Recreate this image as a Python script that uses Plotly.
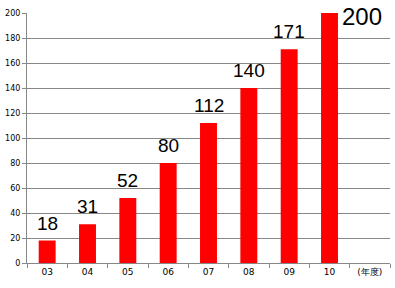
import plotly.graph_objects as go

categories = ["03", "04", "05", "06", "07", "08", "09", "10", "(年度)"]
values = [18, 31, 52, 80, 112, 140, 171, 200, None]
y_ticks = [0, 20, 40, 60, 80, 100, 120, 140, 160, 180, 200]

fig = go.Figure()
fig.add_trace(go.Bar(x=categories, y=values, marker_color="#ff0000",
                     marker_line_width=0, width=0.42))

for i, v in enumerate(values):
    if v is None:
        continue
    if v == max(x for x in values if x is not None):
        fig.add_annotation(x=i, y=v, text=str(v), showarrow=False,
                           xanchor="left", yanchor="middle", xshift=10, yshift=-3,
                           font=dict(size=24, color="black", family="Liberation Sans"))
    else:
        fig.add_annotation(x=i, y=v, text=str(v), showarrow=False,
                           yanchor="bottom", yshift=5,
                           font=dict(size=19, color="black", family="Liberation Sans"))

fig.update_layout(
    width=395, height=288,
    margin=dict(l=27, r=5, t=13, b=25),
    paper_bgcolor="white", plot_bgcolor="white",
    showlegend=False,
    xaxis=dict(type="category", categoryorder="array", categoryarray=categories,
               showline=True, linecolor="#888888", linewidth=1,
               ticks="outside", tickson="boundaries", ticklen=4, tickcolor="#888888",
               tickfont=dict(size=9, family="DejaVu Sans", color="black"),
               showgrid=False, range=[-0.5, 8.5]),
    yaxis=dict(range=[0, 200], tickvals=y_ticks, showline=True, linecolor="#888888",
               linewidth=1, ticks="outside", ticklen=4, tickcolor="#888888",
               gridcolor="#888888", gridwidth=1, zeroline=False,
               tickfont=dict(size=8, family="DejaVu Sans", color="black")),
)

fig.write_html("out.html")
